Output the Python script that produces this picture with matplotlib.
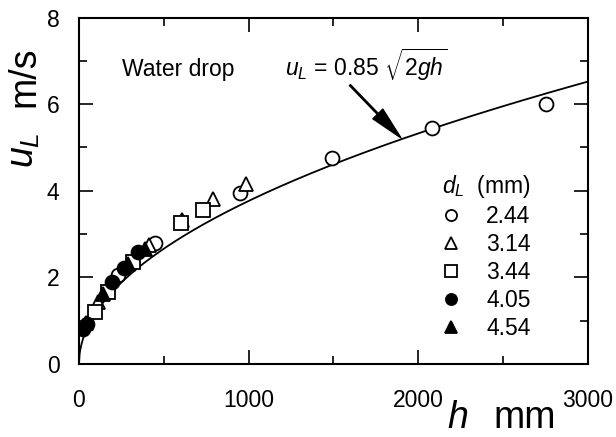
import matplotlib

matplotlib.use("Agg")
import matplotlib.pyplot as plt
import numpy as np
from matplotlib.ticker import MultipleLocator

plt.rcParams["font.family"] = ["Liberation Sans", "DejaVu Sans"]
plt.rcParams["mathtext.fontset"] = "custom"
plt.rcParams["mathtext.rm"] = "Liberation Sans"
plt.rcParams["mathtext.it"] = "Liberation Sans:italic"
plt.rcParams["mathtext.bf"] = "Liberation Sans:bold"

# drop diameters d_L (mm) and measured velocities u_L (m/s) vs fall height h (mm)
diameters = ["2.44", "3.14", "3.44", "4.05", "4.54"]

h_244 = [229, 447, 950, 1490, 2080, 2750]
u_244 = [2.05, 2.80, 3.95, 4.75, 5.45, 6.00]

h_314 = [110, 410, 605, 790, 985]
u_314 = [1.43, 2.75, 3.33, 3.80, 4.15]

h_344 = [92, 171, 318, 600, 730]
u_344 = [1.19, 1.67, 2.36, 3.25, 3.56]

h_405 = [25, 50, 195, 265, 345]
u_405 = [0.80, 0.92, 1.90, 2.22, 2.58]

h_454 = [40, 140, 290, 390]
u_454 = [0.95, 1.62, 2.30, 2.65]

# correlation u_L = 0.85 sqrt(2 g h)
COEF = 0.85
G = 9.81

FS = 16.5
FS_LABEL = 27

fig = plt.figure(figsize=(6.16, 4.37), dpi=100)
ax = fig.add_axes([0.1282, 0.167, 0.8263, 0.7929])

h_fit = np.linspace(0, 3000, 800)
u_fit = COEF * np.sqrt(2 * G * h_fit / 1000.0)
ax.plot(h_fit, u_fit, color="black", lw=1.3, zorder=2)

series = [
    (h_244, u_244, "o", "white"),
    (h_314, u_314, "^", "white"),
    (h_344, u_344, "s", "white"),
    (h_405, u_405, "o", "black"),
    (h_454, u_454, "^", "black"),
]
for (hh, uu, mk, fc), lab in zip(series, diameters):
    ax.plot(hh, uu, ls="none", marker=mk, ms=10, mfc=fc, mec="black",
            mew=1.3, label=lab, zorder=3)

ax.set_xlim(0, 3000)
ax.set_ylim(0, 8)
ax.xaxis.set_major_locator(MultipleLocator(1000))
ax.xaxis.set_minor_locator(MultipleLocator(500))
ax.yaxis.set_major_locator(MultipleLocator(2))
ax.yaxis.set_minor_locator(MultipleLocator(1))
ax.tick_params(which="both", direction="in", top=True, right=True, width=1.2,
               labelsize=FS)
ax.tick_params(which="major", length=10)
ax.tick_params(which="minor", length=6)
ax.tick_params(axis="x", pad=18)
ax.tick_params(axis="y", pad=14)
for sp in ax.spines.values():
    sp.set_linewidth(1.5)

ax.text(253, 6.65, "Water drop", fontsize=FS, va="baseline")
ax.text(1214, 6.65, r"$u_L$ = 0.85 $\sqrt{2gh}$", fontsize=FS, va="baseline")
ax.annotate("", xy=(1898, 5.22), xytext=(1597, 6.44),
            arrowprops=dict(facecolor="black", edgecolor="black", width=1.0,
                            headwidth=10, headlength=24, shrink=0))

leg = ax.legend(title=r"$d_L$  (mm)", loc="upper left",
                bbox_to_anchor=(0.69, 0.585), frameon=False, fontsize=FS,
                title_fontsize=FS, handlelength=0.8, handletextpad=1.15,
                labelspacing=0.22, borderpad=0, markerscale=0.8)

# axis labels placed as separate pieces: italic symbol and unit
fig.text(458 / 616, 0.002, r"$h$", fontsize=FS_LABEL, ha="center", va="bottom")
fig.text(525 / 616, 0.002, "mm", fontsize=FS_LABEL, ha="center", va="bottom")
fig.text(34 / 616, 1 - 150 / 437, r"$u_L$", fontsize=FS_LABEL, ha="center",
         va="baseline", rotation=90, rotation_mode="anchor")
fig.text(34 / 616, 1 - 77 / 437, "m/s", fontsize=FS_LABEL, ha="center",
         va="baseline", rotation=90, rotation_mode="anchor")

fig.savefig("out.png", dpi=100)
